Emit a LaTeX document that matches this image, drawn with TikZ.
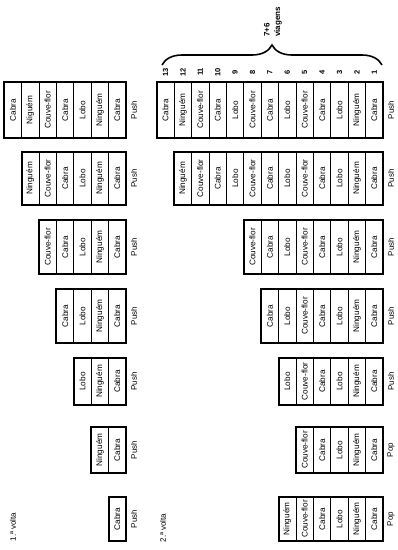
\documentclass[tikz,border=0pt]{standalone}
\usepackage{fontspec}
\setmainfont{Liberation Sans}
\usetikzlibrary{decorations.pathreplacing}
\def\cw{17.4}
\tikzset{
  cell/.style={draw, line width=0.7pt, rotate=90, inner sep=0pt,
    minimum height=17.4pt, font=\fontsize{8.2}{9}\selectfont},
  outer/.style={line width=1.9pt},
  oplabel/.style={rotate=90, inner sep=0pt, font=\fontsize{8}{9}\selectfont},
  numlabel/.style={rotate=90, inner sep=0pt, font=\bfseries\fontsize{7.5}{8}\selectfont},
  voltalabel/.style={rotate=90, inner sep=0pt, font=\fontsize{8}{9}\selectfont},
  bracestyle/.style={decorate, decoration={brace, amplitude=20pt}, line width=1.6pt},
}
% #1 id, #2 n, #3 xright, #4 ytop, #5 ybot, #6 operation, #7 cells bottom-first
\newcommand\stk[7]{%
  \foreach \t [count=\i] in {#7} {
    \node[cell, minimum width={#5-#4}] (#1-\i) at ({#3-(\i-0.5)*\cw}, {(#4+#5)/2}) {\t};
  }
  \draw[outer] ({#3-#2*\cw},#4) rectangle (#3,#5);
  \node[oplabel] (#1-op) at ({#3+8}, {(#4+#5)/2}) {#6};
}
\begin{document}
\begin{tikzpicture}[x=1pt,y=-1pt]
\useasboundingbox (0,0) rectangle (398,550);

% 1.a volta
\node[voltalabel] (volta1) at (13,527) {1.ª volta};
\stk{L1}{1}{126}{497}{541}{Push}{Cabra}
\stk{L2}{2}{126}{427}{473}{Push}{Cabra,Ninguém}
\stk{L3}{3}{126}{358}{405}{Push}{Cabra,Ninguém,Lobo}
\stk{L4}{4}{126}{289}{343}{Push}{Cabra,Ninguém,Lobo,Cabra}
\stk{L5}{5}{126}{220}{274}{Push}{Cabra,Ninguém,Lobo,Cabra,Couve-flor}
\stk{L6}{6}{126}{152}{205}{Push}{Cabra,Ninguém,Lobo,Cabra,Couve-flor,Ninguém}
\stk{L7}{7}{126}{82}{138}{Push}{Cabra,Ninguém,Lobo,Cabra,Couve-flor,Niguém,Cabra}

% 2.a volta
\node[voltalabel] (volta2) at (163,528) {2.ª volta};
\stk{R1}{6}{383}{497}{541}{Pop}{Cabra,Ninguém,Lobo,Cabra,Couve-flor,Ninguém}
\stk{R2}{5}{383}{427}{473}{Pop}{Cabra,Ninguém,Lobo,Cabra,Couve-flor}
\stk{R3}{6}{383}{358}{405}{Push}{Cabra,Ninguém,Lobo,Cabra,Couve-flor,Lobo}
\stk{R4}{7}{383}{289}{343}{Push}{Cabra,Ninguém,Lobo,Cabra,Couve-flor,Lobo,Cabra}
\stk{R5}{8}{383}{220}{274}{Push}{Cabra,Ninguém,Lobo,Cabra,Couve-flor,Lobo,Cabra,Couve-flor}
\stk{R6}{12}{383}{152}{205}{Push}{Cabra,Ninguém,Lobo,Cabra,Couve-flor,Lobo,Cabra,Couve-flor,Lobo,Cabra,Couve-flor,Ninguém}
\stk{R7}{13}{383}{82}{138}{Push}{Cabra,Ninguém,Lobo,Cabra,Couve-flor,Lobo,Cabra,Couve-flor,Lobo,Cabra,Couve-flor,Ninguém,Cabra}

% numbers over the last stack
\foreach \i in {1,...,13} {
  \node[numlabel] (num-\i) at ({383-(\i-0.5)*\cw}, 72) {\i};
}
\coordinate (braceL) at (162,65);
\coordinate (braceR) at (382,65);
\draw[bracestyle] (braceL) -- (braceR);
\node[rotate=90, anchor=west, align=left, inner sep=0pt,
  font=\bfseries\fontsize{8}{10.5}\selectfont] (trips) at (273,37) {7+6\\viagens};
\end{tikzpicture}
\end{document}
